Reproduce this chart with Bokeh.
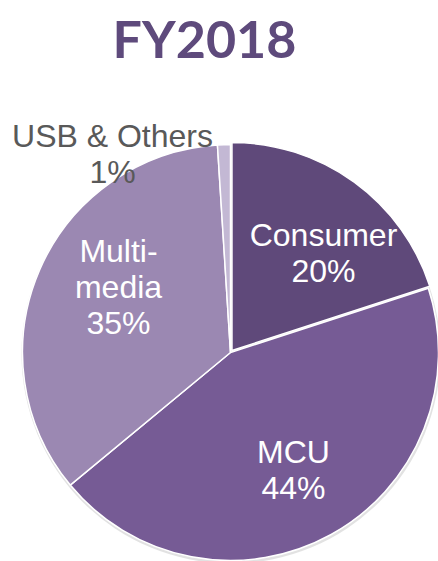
import numpy as np
from bokeh.plotting import figure
from bokeh.models import Range1d, ColumnDataSource
from bokeh.core.properties import value
from bokeh.embed import file_html
from bokeh.resources import INLINE

# ---- data ----
title_text = "FY2018"
categories = ["Consumer", "MCU", "Multi-media", "USB & Others"]
shares = [20, 44, 35, 1]
label_lines = [["Consumer", "20%"], ["MCU", "44%"], ["Multi-", "media", "35%"], ["USB & Others", "1%"]]
colors = ["#5F497A", "#765B95", "#9B88B2", "#C3B8D4"]
label_colors = ["#FFFFFF", "#FFFFFF", "#FFFFFF", "#595959"]

# ---- layout ----
W, H = 438, 561
cx, cy = 230, H - 352
R = 208
explode = [2.5, 0, 0, 0]
# label centres (px, y down)
label_centres = [(323, 252), (293, 469), (118, 286), (112, 153)]
line_gap = 36

p = figure(width=W, height=H, output_backend="svg", toolbar_location=None,
           x_range=Range1d(0, W), y_range=Range1d(0, H), min_border=0)
p.axis.visible = False
p.grid.visible = False
p.outline_line_color = None
p.background_fill_color = "white"
p.border_fill_color = "white"

vals = np.array(shares, dtype=float)
frac = vals / vals.sum()
ang = frac * 2 * np.pi
starts = np.pi / 2 - np.concatenate([[0], np.cumsum(ang)[:-1]])
ends = starts - ang
mids = (starts + ends) / 2
xs = cx + np.array(explode) * np.cos(mids)
ys = cy + np.array(explode) * np.sin(mids)

# faint shadow
p.circle(x=[cx + 0.5], y=[cy - 1.5], radius=R + 1.5, fill_color="#BFBFBF",
         fill_alpha=0.45, line_color=None)

src = ColumnDataSource(dict(x=xs, y=ys, start=starts, end=ends, color=colors, cat=categories))
p.wedge(x="x", y="y", radius=R, start_angle="start", end_angle="end", direction="clock",
        fill_color="color", line_color="white", line_width=1.5, source=src)

tx, ty, tt, tc = [], [], [], []
for lines, (lx, ly), col in zip(label_lines, label_centres, label_colors):
    n = len(lines)
    for i, t in enumerate(lines):
        yy = ly + (i - (n - 1) / 2) * line_gap
        tx.append(lx)
        ty.append(H - yy)
        tt.append(t)
        tc.append(col)
p.text(x=tx, y=ty, text=tt, text_color=tc, text_font=value("Liberation Sans"),
       text_font_size="32px", text_align="center", text_baseline="middle")

p.text(x=[204], y=[H - 37], text=[title_text], text_color="#5E4A7C",
       text_font=value("Lato"), text_font_style="bold", text_font_size="52px",
       text_align="center", text_baseline="middle")

open("out.html", "w").write(file_html(p, INLINE))
